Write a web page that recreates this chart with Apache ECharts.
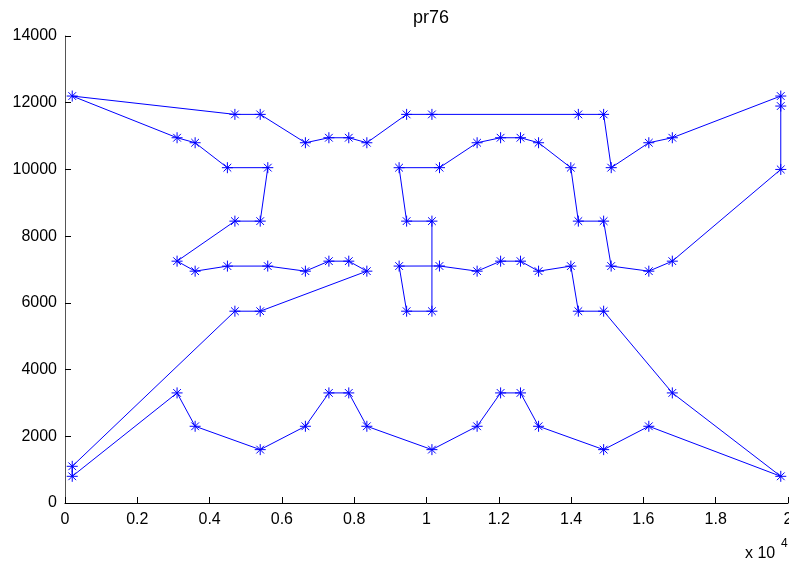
<!DOCTYPE html>
<html>
<head>
<meta charset="utf-8">
<script src="https://cdn.jsdelivr.net/npm/echarts@6/dist/echarts.min.js"></script>
<style>html,body{margin:0;padding:0;background:#fff;}#c{width:789px;height:562px;}</style>
</head>
<body>
<div id="c"></div>
<script>
const cityX = [3600,3100,4700,5400,5608,4493,3600,3100,4700,5400,5610,4492,3600,3100,4700,5400,6650,7300,7300,6650,
  7300,6650,5400,8350,7850,9450,10150,10358,9243,8350,7850,9450,10150,10360,9242,8350,7850,9450,10150,11400,
  12050,12050,11400,12050,11400,10150,13100,12600,14200,14900,15108,13993,13100,12600,14200,14900,15110,13992,13100,12600,
  14200,14900,16150,16800,16800,16150,16800,16150,14900,19800,19800,19800,19800,200,200,200];
const cityY = [2300,3300,5750,5750,7103,7102,6950,7250,8450,8450,10053,10052,10800,10950,11650,11650,10800,10950,7250,6950,
  3300,2300,1600,2300,3300,5750,5750,7105,7103,6950,7250,8450,8450,10053,10052,10800,10950,11650,11650,10800,
  10950,7250,6950,3300,2300,1600,2300,3300,5750,5750,7103,7102,6950,7250,8450,8450,10053,10052,10800,10950,
  11650,11650,10800,10950,7250,6950,3300,2300,1600,800,10000,11900,12200,12200,1100,800];
// tour order (1-based city indices)
const tour = [74,15,16,17,18,37,36,38,39,61,62,57,63,64,73,72,71,65,66,51,
  56,55,58,59,60,41,40,34,35,32,33,27,26,29,28,43,42,54,53,52,
  49,50,67,70,68,69,47,48,44,45,46,24,25,21,22,23,1,2,76,75,
  3,4,30,31,19,20,5,6,7,8,9,10,11,12,13,14];
const xTicks = [0,2000,4000,6000,8000,10000,12000,14000,16000,18000,20000];
const yTicks = [0,2000,4000,6000,8000,10000,12000,14000];
const titleText = 'pr76';

const tourData = tour.map(i => [cityX[i-1], cityY[i-1]]);
tourData.push(tourData[0]);
const cityData = cityX.map((x, i) => [x, cityY[i]]);

const font = 'Liberation Sans, Arial, Helvetica, sans-serif';
const chart = echarts.init(document.getElementById('c'), null, {renderer: 'canvas'});
chart.setOption({
  animation: false,
  backgroundColor: '#fff',
  title: {
    text: titleText, left: 426, top: 4, textAlign: 'center',
    textStyle: {fontFamily: font, fontSize: 18, fontWeight: 'normal', color: '#000'}
  },
  grid: {left: 65, right: 1, top: 36, bottom: 59, containLabel: false, outerBoundsMode: 'none'},
  xAxis: {
    type: 'value', min: xTicks[0], max: xTicks[xTicks.length-1], interval: 2000,
    axisLine: {show: true, onZero: false, lineStyle: {color: '#000', width: 1}},
    axisTick: {show: true, inside: true, length: 6, lineStyle: {color: '#000'}},
    splitLine: {show: false},
    axisLabel: {
      margin: 9, fontFamily: font, fontSize: 16, color: '#000', hideOverlap: false,
      formatter: v => String(parseFloat((v / 10000).toFixed(2)))
    }
  },
  yAxis: {
    type: 'value', min: yTicks[0], max: yTicks[yTicks.length-1], interval: 2000,
    axisLine: {show: true, onZero: false, lineStyle: {color: '#555', width: 1}},
    axisTick: {show: true, inside: true, length: 6, lineStyle: {color: '#000'}},
    splitLine: {show: false},
    axisLabel: {margin: 8, fontFamily: font, fontSize: 16, color: '#000', formatter: v => String(v)}
  },
  graphic: [
    {type: 'text', left: 745, top: 546, silent: true,
     style: {text: 'x 10', fontFamily: font, fontSize: 16, fill: '#000'}},
    {type: 'text', left: 781, top: 538, silent: true,
     style: {text: '4', fontFamily: font, fontSize: 12, fill: '#000'}}
  ],
  series: [
    {
      type: 'line', data: tourData, showSymbol: false, silent: true,
      lineStyle: {color: '#0000ff', width: 1}, z: 2
    },
    {
      type: 'scatter', data: cityData, silent: true,
      symbol: 'path://M5,0L5,10M0,5L10,5M1.5,1.5L8.5,8.5M1.5,8.5L8.5,1.5',
      symbolSize: 11,
      itemStyle: {color: 'rgba(0,0,0,0)', borderColor: '#0000ff', borderWidth: 1, opacity: 1},
      z: 3
    }
  ]
});
</script>
</body>
</html>
